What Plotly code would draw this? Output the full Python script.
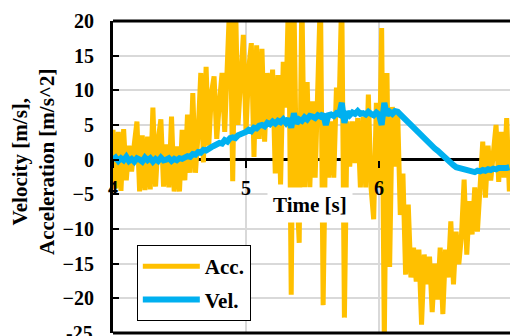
import plotly.graph_objects as go

# ---- data ----
t_start = 4.0
t_step = 0.02

acc = [4.3, -4.2, 4.0, -4.5, 4.4, -3.0, 2.0, -1.7, 2.2, 5.5,
       -4.6, 3.5, -4.4, 3.3, -4.3, 7.5, -3.9, 2.9, 5.8, -3.9,
       2.2, -4.0, 6.2, -4.6, 1.9, -4.6, 4.3, -3.0, 6.5, -1.9,
       9.6, -1.9, 3.8, 12.5, -0.4, 13.4, 2.0, 9.6, 12.0, 3.0,
       8.2, 12.5, 4.0, 13.7, 24.0, -3.1, 24.0, 5.0, 12.5, 18.0,
       4.0, 13.0, 16.8, 0.4, 16.5, 3.0, 16.0, 2.6, 12.5, 5.0,
       13.0, -2.0, 12.2, -3.6, 14.1, 7.5, 24.0, -19.5, 24.0, -3.5,
       -12.0, 24.0, -4.0, 11.2, -4.0, 8.4, -2.6, 8.6, 24.0, -21.0,
       5.5, -2.6, 5.5, -2.6, 10.4, 7.5, 24.0, -22.8, 5.5, -1.0,
       5.5, -0.5, 6.0, -4.0, 6.2, -4.0, 9.4, -4.0, -8.6, 8.2,
       -4.0, 19.0, -26.0, 12.5, -15.5, 7.6, -1.0, 7.2, -8.0, -2.0,
       -16.6, -6.5, -17.0, -12.7, -17.6, -13.0, -23.8, -13.7, -18.0, -14.0,
       -22.0, -15.0, -20.2, -12.7, -22.3, -13.0, -17.0, -8.9, -18.0, -10.4,
       -15.1, -11.0, -2.9, -13.7, -6.0, -10.8, -4.0, -10.4, -3.6, 2.6,
       -5.5, 2.0, -3.0, 1.0, 5.0, -3.2, 4.0, -2.6, 6.0, -4.6]

vel = [0.0, 0.3, -0.2, 0.2, -0.1, 0.4, -0.2, 0.1, -0.3, 0.2,
       0.0, -0.3, 0.3, -0.1, 0.2, -0.3, 0.1, -0.2, 0.3, -0.1,
       0.0, 0.2, -0.2, 0.1, -0.1, 0.2, 0.1, 0.3, 0.5, 0.4,
       0.8, 0.7, 1.1, 1.0, 1.4, 1.3, 1.7, 1.8, 2.0, 2.2,
       2.4, 2.3, 2.8, 2.6, 3.1, 3.2, 3.1, 3.5, 3.6, 3.9,
       4.0, 4.3, 4.1, 4.6, 4.5, 4.9, 5.0, 4.8, 5.3, 5.1,
       5.5, 5.2, 5.6, 5.4, 5.8, 5.3, 5.9, 4.6, 6.7, 5.2,
       5.8, 5.6, 6.1, 5.8, 6.3, 6.2, 6.0, 6.4, 6.2, 6.6,
       5.0, 6.4, 6.5, 6.3, 6.7, 6.5, 8.2, 5.3, 6.9, 6.4,
       6.8, 6.6, 7.0, 6.6, 6.7, 6.5, 6.9, 6.6, 6.4, 6.8,
       6.5, 5.0, 8.2, 6.4, 6.9, 6.6, 7.0, 6.9, 6.5, 6.2,
       5.8, 5.4, 5.0, 4.7, 4.3, 3.9, 3.5, 3.1, 2.8, 2.4,
       2.0, 1.6, 1.3, 0.9, 0.5, 0.1, -0.2, -0.5, -0.8, -1.1,
       -1.2, -1.4, -1.5, -1.7, -1.8, -1.9, -1.8, -1.6, -1.7, -1.5,
       -1.6, -1.4, -1.5, -1.3, -1.4, -1.2, -1.3, -1.2, -1.2, -1.1]

time = [round(t_start + t_step * i, 3) for i in range(len(acc))]

x_ticks = [4, 5, 6, 7]
y_ticks = [-25, -20, -15, -10, -5, 0, 5, 10, 15, 20]
series_names = ["Acc.", "Vel."]
x_title = "Time [s]"
y_title = "Velocity [m/s],<br>Acceleration [m/s^2]"

# ---- figure ----
FONT = "Liberation Serif, 'Times New Roman', Times, serif"
ACC_C = "#FFC000"
VEL_C = "#00B0F0"
GRID = "#d9d9d9"


def f(size):
    return dict(family=FONT, size=size, color="black", weight="bold")


fig = go.Figure()
fig.add_trace(go.Scatter(x=time, y=acc, mode="lines", name=series_names[0],
                         legendgroup="a", line=dict(color=ACC_C, width=5)))
fig.add_trace(go.Scatter(x=time, y=vel, mode="lines", name=series_names[1],
                         legendgroup="b", line=dict(color=VEL_C, width=6)))

xr = [4, 6.985]
yr = [-25.02, 20]
zero_pos = (0 - yr[0]) / (yr[1] - yr[0])

# the lowest tick label sits on the figure edge, where plotly drops it; draw it as text
edge_labels = [dict(text=str(y_ticks[0]), xref="paper", yref="y",
                    x=-18 / 397, y=y_ticks[0], xanchor="right", yanchor="middle",
                    showarrow=False, font=f(20))]

fig.update_layout(
    width=510, height=336,
    margin=dict(l=113, r=0, t=21, b=3, autoexpand=False),
    paper_bgcolor="white", plot_bgcolor="white",
    font=f(20),
    showlegend=True,
    legend=dict(x=0.06, y=0.282, xanchor="left", yanchor="top",
                bgcolor="white", bordercolor="black", borderwidth=1,
                itemwidth=57, tracegroupgap=3,
                font=f(21)),
    xaxis=dict(range=xr, anchor="free", position=zero_pos, automargin=False,
               tickvals=x_ticks, ticks="outside", ticklen=7, tickwidth=2,
               tickcolor="black", showline=False, zeroline=False,
               showgrid=True, gridcolor=GRID, gridwidth=2,
               tickfont=f(20), ticklabelstandoff=3),
    xaxis2=dict(range=xr, anchor="free", position=zero_pos, overlaying="x",
                automargin=False,
                tickvals=x_ticks, ticks="inside", ticklen=7, tickwidth=2,
                tickcolor="black", showticklabels=False, showline=False,
                zeroline=False, showgrid=False),
    yaxis=dict(range=yr, tickvals=y_ticks, ticks="inside", ticklen=6,
               automargin=False,
               tickwidth=2, tickcolor="black", showline=True, linecolor="black",
               linewidth=3, zeroline=True, zerolinecolor="black", zerolinewidth=3,
               showgrid=True, gridcolor=GRID, gridwidth=2,
               tickfont=f(20), ticklabelstandoff=12),
    shapes=[
        dict(type="line", xref="paper", yref="paper", x0=0, x1=1.02, y0=1, y1=1,
             line=dict(color="black", width=3), layer="above"),
        dict(type="line", xref="paper", yref="paper", x0=0, x1=1.02, y0=0, y1=0,
             line=dict(color="black", width=3), layer="above"),
    ],
    annotations=[
        dict(text=x_title, xref="paper", yref="paper", x=0.496, y=0.41,
             xanchor="center", yanchor="middle", showarrow=False,
             bgcolor="white", borderpad=5, font=f(21)),
        dict(text=y_title, xref="paper", yref="paper", x=-0.2, y=0.55,
             xanchor="center", yanchor="middle", showarrow=False, textangle=-90,
             font=f(21)),
    ] + edge_labels,
)

fig.write_html("out.html",
               config={"displayModeBar": False},
               post_script="document.body.style.margin='0';"
                           "document.body.style.overflow='hidden';")
